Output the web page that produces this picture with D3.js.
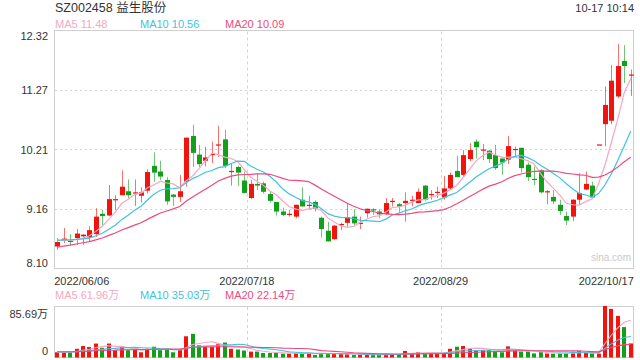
<!DOCTYPE html>
<html><head><meta charset="utf-8">
<script src="https://cdn.jsdelivr.net/npm/d3@7"></script>
<style>
body{margin:0;background:#fff}
svg{display:block}
text{font-family:"Liberation Sans",Arial,"Noto Sans CJK SC",sans-serif}
</style>
</head><body>
<svg id="c" width="640" height="360"></svg>
<script>
// ---------------- DATA ----------------
const tradingDays = {
  "2022/06": [6,7,8,9,10,13,14,15,16,17,20,21,22,23,24,27,28,29,30],
  "2022/07": [1,4,5,6,7,8,11,12,13,14,15,18,19,20,21,22,25,26,27,28,29],
  "2022/08": [1,2,3,4,5,8,9,10,11,12,15,16,17,18,19,22,23,24,25,26,29,30,31],
  "2022/09": [1,2,5,6,7,8,9,13,14,15,16,19,20,21,22,23,26,27,28,29,30],
  "2022/10": [10,11,12,13,14,17]
};
const xTickLabels = ["2022/06/06","2022/07/18","2022/08/29","2022/10/17"];
const yTickValues = [12.32, 11.27, 10.21, 9.16, 8.10];
const yTickLabels = ["12.32","11.27","10.21","9.16","8.10"];

const opens  = [8.49,8.60,8.59,8.64,8.67,8.65,8.71,9.07,9.04,9.31,9.40,9.47,9.44,9.39,9.48,9.92,9.82,9.67,9.41,9.37,
                9.64,10.45,10.12,10.01,10.11,10.29,10.39,9.82,9.90,9.66,9.35,9.60,9.61,9.42,9.28,9.11,9.06,9.02,9.32,9.22,
                9.28,9.00,8.77,8.62,8.87,8.91,9.02,8.90,9.08,9.15,9.11,9.07,9.28,9.24,9.26,9.30,9.26,9.57,9.40,9.45,
                9.36,9.52,9.83,9.76,10.04,10.35,10.19,10.19,10.11,10.05,10.03,10.20,10.24,9.94,9.69,9.84,9.45,9.37,9.23,9.03,
                9.02,9.32,9.50,9.57,10.30,10.66,10.72,11.15,11.78,11.52];
const closes = [8.57,8.63,8.57,8.72,8.70,8.78,9.02,9.03,9.33,9.33,9.55,9.40,9.45,9.45,9.81,9.80,9.73,9.29,9.37,9.47,
                10.42,10.15,9.95,10.07,10.13,10.30,9.92,9.83,9.80,9.44,9.60,9.57,9.46,9.30,9.11,9.05,9.07,9.23,9.20,9.23,
                9.16,8.80,8.58,8.86,8.89,9.01,8.90,8.91,9.16,9.13,9.06,9.26,9.30,9.20,9.30,9.32,9.46,9.32,9.42,9.46,
                9.52,9.76,9.72,10.11,10.20,10.25,10.21,10.04,9.88,9.98,10.27,10.22,9.88,9.72,9.67,9.45,9.47,9.29,9.12,8.95,
                9.32,9.44,9.60,9.36,10.30,11.00,11.43,11.69,11.69,11.54];
const highs  = [8.64,8.82,8.71,8.80,8.71,8.85,9.17,9.14,9.58,9.40,9.84,9.68,9.68,9.54,9.86,10.16,10.01,9.72,9.42,9.76,
                10.42,10.65,10.29,10.26,10.35,10.63,10.56,9.97,9.92,9.82,9.67,9.79,9.64,9.46,9.28,9.18,9.14,9.23,9.54,9.39,
                9.31,9.02,8.93,8.87,8.91,9.26,9.15,9.02,9.16,9.17,9.15,9.35,9.35,9.26,9.45,9.39,9.52,9.58,9.49,9.55,
                9.74,9.80,10.10,10.20,10.32,10.39,10.31,10.20,10.29,10.05,10.45,10.26,10.24,9.98,9.91,9.86,9.49,9.49,9.32,9.11,
                9.33,9.79,9.82,9.64,10.30,11.33,11.71,12.08,12.06,11.63];
const lows   = [8.43,8.55,8.50,8.52,8.52,8.57,8.66,8.87,9.03,9.14,9.40,9.35,9.21,9.27,9.43,9.64,9.67,9.23,9.21,9.28,
                9.55,9.90,9.89,9.91,9.97,10.08,9.88,9.57,9.56,9.43,9.33,9.49,9.43,9.27,9.04,9.03,9.02,8.99,9.20,9.14,
                9.11,8.65,8.58,8.61,8.78,8.84,8.87,8.80,9.00,9.05,8.99,9.05,9.20,9.08,8.93,9.20,9.26,9.30,9.32,9.35,
                9.32,9.49,9.72,9.73,10.00,10.05,10.02,9.97,9.85,9.76,9.95,10.09,9.80,9.65,9.58,9.43,9.24,9.24,9.05,8.87,
                8.94,9.23,9.49,9.35,10.30,10.27,10.66,11.12,11.39,11.16];
// volume in 万 shares
const volumes = [8.7,8.7,8.7,14.5,19.1,17.4,23.2,16.2,23.2,12.2,17.4,12.2,13.3,8.7,14.5,17.9,12.2,13.3,8.7,12.2,
                 35.3,39.4,20.3,17.9,17.9,22.0,24.9,14.5,13.3,11.6,9.8,9.8,7.5,7.5,7.5,6.4,6.4,7.5,6.4,7.5,
                 4.1,7.5,6.4,6.4,6.4,5.2,4.1,4.6,4.6,4.6,5.2,5.2,5.2,5.2,11.0,7.5,8.7,7.5,7.5,7.5,
                 7.5,14.5,17.9,19.1,14.5,12.2,12.2,12.2,10.4,8.7,18.5,12.0,9.8,9.8,6.8,9.0,6.6,6.2,6.8,7.0,
                 9.5,10.5,7.5,6.5,6.5,85.69,80.9,69.2,50.6,23.4];
// closes / volumes of the 19 sessions before the window (needed for the moving averages)
const priorCloses  = [8.20,8.25,8.30,8.28,8.35,8.40,8.38,8.42,8.45,8.50,8.55,8.58,8.62,8.60,8.65,8.62,8.58,8.63,8.60];
const priorVolumes = [10,9,11,10,12,9,8,10,11,9,10,8,9,11,10,9,8,9,10];

const maPeriods = [5, 10, 20];
const maNames = ["MA5","MA10","MA20"];
const priceLegendValues = ["11.48","10.56","10.09"];
const volLegendValues = ["61.96万","35.03万","22.14万"];
const volTickLabels = ["85.69万","0"];
const volMax = 85.69;

const title = "SZ002458 益生股份";
const stamp = "10-17 10:14";

// ---------------- LAYOUT ----------------
const L = 54, R = 634, T = 30.5, B = 268.5, VT = 306, VB = 357.5;
const colUp = "#f2140c", colDown = "#12a01a";
const maColors = ["#f8a6c2", "#3fc3e0", "#ee4a7f"];
const gridCol = "#d4d4d4", frameCol = "#cfcfcf", textCol = "#333";

const dates = [];
Object.entries(tradingDays).forEach(([m, ds]) => ds.forEach(d => dates.push(m + "/" + String(d).padStart(2, "0"))));

function movingAvg(series, prior, n) {
  const all = prior.concat(series), off = prior.length;
  return series.map((_, i) => d3.mean(all.slice(off + i - n + 1, off + i + 1)));
}

const svg = d3.select("#c");
const x = d3.scaleBand().domain(dates).range([L, R]).padding(0);
const bw = x.bandwidth();
const cx = d => Math.round(x(d) + bw / 2);
const y = d3.scaleLinear().domain([8.10, 12.32]).range([B, T]);
const yv = d3.scaleLinear().domain([0, volMax]).range([VB, VT]);

// title / legends
svg.append("text").attr("x", 55).attr("y", 12).attr("font-size", 12.5).attr("fill", textCol).text(title);
svg.append("text").attr("x", 634).attr("y", 12).attr("text-anchor", "end").attr("font-size", 11).attr("fill", textCol).text(stamp);
const legX = [55, 140, 225];
maNames.forEach((n, k) => {
  svg.append("text").attr("x", legX[k]).attr("y", 28).attr("font-size", 11).attr("fill", maColors[k]).text(n + " " + priceLegendValues[k]);
  svg.append("text").attr("x", legX[k]).attr("y", 298.5).attr("font-size", 11).attr("fill", maColors[k]).text(n + " " + volLegendValues[k]);
});

// frames
svg.append("rect").attr("x", L + 0.5).attr("y", T).attr("width", R - L - 1).attr("height", B - T)
  .attr("fill", "none").attr("stroke", frameCol);
svg.append("rect").attr("x", L + 0.5).attr("y", VT + 0.5).attr("width", R - L - 1).attr("height", VB - VT - 0.5)
  .attr("fill", "none").attr("stroke", frameCol);

// horizontal grid
svg.append("g").selectAll("line").data(yTickValues.slice(1, 4)).join("line")
  .attr("x1", L + 1).attr("x2", R - 1)
  .attr("y1", d => Math.round(y(d)) + 0.5).attr("y2", d => Math.round(y(d)) + 0.5)
  .attr("stroke", gridCol).attr("stroke-dasharray", "2,3");
// vertical grid at the middle date labels
const vDates = xTickLabels.slice(1, 3);
[[T, B], [VT, VB]].forEach(([a, b]) => {
  svg.append("g").selectAll("line").data(vDates).join("line")
    .attr("x1", d => Math.round(x(d)) + 0.5).attr("x2", d => Math.round(x(d)) + 0.5)
    .attr("y1", a + 1).attr("y2", b - 1)
    .attr("stroke", gridCol).attr("stroke-dasharray", "3,3");
});

// y axis (price)
const yAxis = svg.append("g").attr("transform", `translate(${L - 3},0)`)
  .call(d3.axisLeft(y).tickValues(yTickValues).tickSize(0).tickFormat((d, i) => yTickLabels[i]));
yAxis.select(".domain").remove();
yAxis.selectAll("text").attr("font-size", 11).attr("fill", textCol).attr("font-family", null)
  .attr("dy", (d, i) => i === 0 ? "0.85em" : (i === yTickValues.length - 1 ? "-0.15em" : "0.35em"));

// x axis
const xAxis = svg.append("g").attr("transform", `translate(0,${B})`)
  .call(d3.axisBottom(x).tickValues(xTickLabels).tickSize(0));
xAxis.select(".domain").remove();
xAxis.selectAll("text").attr("font-size", 11).attr("fill", textCol).attr("font-family", null).attr("dy", "1.25em")
  .attr("text-anchor", (d, i) => i === 0 ? "start" : (i === xTickLabels.length - 1 ? "end" : "middle"))
  .attr("x", (d, i) => i === 0 ? L - cx(d) : (i === xTickLabels.length - 1 ? R - cx(d) : x(d) - cx(d)));

// volume axis labels
const yvAxis = svg.append("g").attr("transform", `translate(${L - 3},0)`)
  .call(d3.axisLeft(yv).tickValues([volMax, 0]).tickSize(0).tickFormat((d, i) => volTickLabels[i]));
yvAxis.select(".domain").remove();
yvAxis.selectAll("text").attr("font-size", 11).attr("fill", textCol).attr("font-family", null)
  .attr("dy", (d, i) => i === 0 ? "1.0em" : "-0.25em");

// watermark
svg.append("text").attr("x", 631).attr("y", 261).attr("text-anchor", "end").attr("font-size", 10)
  .attr("fill", "#c8c8c8").text("sina.com");

// candles
const idx = d3.range(dates.length);
const up = i => closes[i] >= opens[i];
const candles = svg.append("g");
candles.selectAll("line").data(idx).join("line")
  .attr("x1", i => cx(dates[i]) + 0.5).attr("x2", i => cx(dates[i]) + 0.5)
  .attr("y1", i => y(highs[i])).attr("y2", i => y(lows[i]))
  .attr("stroke", i => up(i) ? colUp : colDown).attr("stroke-opacity", 0.6);
candles.selectAll("rect").data(idx).join("rect")
  .attr("x", i => cx(dates[i]) - 2).attr("width", 5)
  .attr("y", i => y(Math.max(opens[i], closes[i])))
  .attr("height", i => Math.max(1.2, y(Math.min(opens[i], closes[i])) - y(Math.max(opens[i], closes[i]))))
  .attr("fill", i => up(i) ? colUp : colDown);

// price moving averages
const line = d3.line().x((d, i) => x(dates[i]) + bw / 2).y(d => y(d));
maPeriods.forEach((n, k) => {
  svg.append("path").datum(movingAvg(closes, priorCloses, n)).attr("d", line)
    .attr("fill", "none").attr("stroke", maColors[k]).attr("stroke-width", 1.2);
});

// volume bars
svg.append("g").selectAll("rect").data(idx).join("rect")
  .attr("x", i => cx(dates[i]) - 2).attr("width", 4)
  .attr("y", i => yv(volumes[i])).attr("height", i => VB - yv(volumes[i]))
  .attr("fill", i => up(i) ? colUp : colDown);

// volume moving averages
const vline = d3.line().x((d, i) => x(dates[i]) + bw / 2).y(d => yv(d));
maPeriods.forEach((n, k) => {
  svg.append("path").datum(movingAvg(volumes, priorVolumes, n)).attr("d", vline)
    .attr("fill", "none").attr("stroke", maColors[k]).attr("stroke-width", 1.1);
});
</script>
</body></html>
